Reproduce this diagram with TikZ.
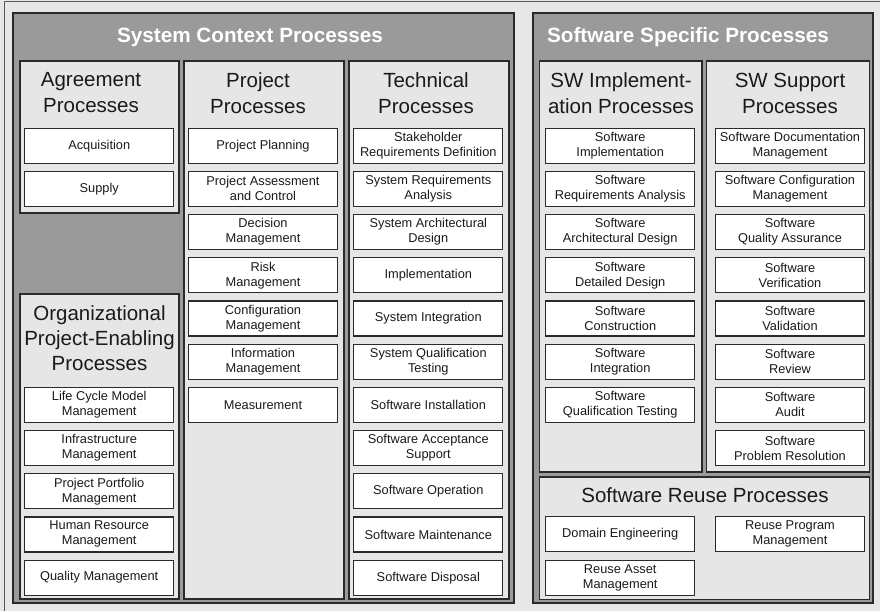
\documentclass[tikz,border=0pt]{standalone}
\usepackage{fontspec}
\setmainfont{Liberation Sans}
\definecolor{pagebg}{HTML}{E7E7E7}
\definecolor{bandgray}{HTML}{9A9A9A}
\definecolor{colbg}{HTML}{E6E6E6}
\definecolor{edge}{HTML}{2A2A2A}
\definecolor{ink}{HTML}{1A1A1A}
\begin{document}
\begin{tikzpicture}[x=1pt,y=-1pt,
  group/.style={draw=edge, line width=1.5pt, fill=bandgray},
  column/.style={draw=edge, line width=1.5pt, fill=colbg},
  item/.style={draw=edge, line width=1.2pt, fill=white, text=ink,
    minimum width=149pt, minimum height=35pt, inner sep=0pt, align=center,
    font=\fontsize{12.8}{15}\selectfont},
  coltitle/.style={align=center, text=ink, inner sep=0pt,
    font=\fontsize{20.5}{26}\selectfont},
  bandtitle/.style={anchor=base, text=white, inner sep=0pt,
    font=\fontsize{20.7}{24}\selectfont\bfseries}]
\useasboundingbox (0,0) rectangle (880,611);
\fill[pagebg] (0,0) rectangle (880,611);
\draw[gray!70!black, line width=1pt] (4,611) -- (4,1) -- (880,1);

% ---- System context processes ----
\draw[group] (13,13) rectangle (514,603);
\node[bandtitle] (sysT) at (250,42.7) {System Context Processes};

\draw[column] (20,61) rectangle (179,213);
\node[coltitle] (agrT) at (91,93) {Agreement\\Processes};
\node[item] (agr1) at (99.2,145.7) {Acquisition};
\node[item] (agr2) at (99.2,188.9) {Supply};

\draw[column] (20,294) rectangle (179,599);
\node[coltitle, font=\fontsize{20.5}{25}\selectfont] (orgT) at (99.5,338.2)
  {Organizational\\Project-Enabling\\Processes};
\foreach \t [count=\i] in {{Life Cycle Model\\Management},{Infrastructure\\Management},
    {Project Portfolio\\Management},{Human Resource\\Management},{Quality Management}}
  \node[item] (org\i) at (99.2,{404.8+(\i-1)*43.2}) {\t};

\draw[column] (184,61) rectangle (344,599);
\node[coltitle] (prjT) at (258,93) {Project\\Processes};
\foreach \t [count=\i] in {{Project Planning},{Project Assessment\\and Control},
    {Decision\\Management},{Risk\\Management},{Configuration\\Management},
    {Information\\Management},{Measurement}}
  \node[item] (prj\i) at (263,{145.7+(\i-1)*43.2}) {\t};

\draw[column] (349,61) rectangle (509,599);
\node[coltitle] (tecT) at (426,93) {Technical\\Processes};
\foreach \t [count=\i] in {{Stakeholder\\Requirements Definition},
    {System Requirements\\Analysis},{System Architectural\\Design},{Implementation},
    {System Integration},{System Qualification\\Testing},{Software Installation},
    {Software Acceptance\\Support},{Software Operation},{Software Maintenance},
    {Software Disposal}}
  \node[item] (tec\i) at (428.3,{145.7+(\i-1)*43.2}) {\t};

% ---- Software specific processes ----
\draw[group] (533,13) rectangle (873,603);
\node[bandtitle] (swT) at (688,42.7) {Software Specific Processes};

\draw[column] (539.5,61) rectangle (702,472);
\node[coltitle] (impT) at (621,93) {SW Implement-\\ation Processes};
\foreach \t [count=\i] in {{Software\\Implementation},{Software\\Requirements Analysis},
    {Software\\Architectural Design},{Software\\Detailed Design},{Software\\Construction},
    {Software\\Integration},{Software\\Qualification Testing}}
  \node[item] (imp\i) at (620.2,{145.7+(\i-1)*43.2}) {\t};

\draw[column] (706.7,61) rectangle (869.3,472);
\node[coltitle] (supT) at (790,93) {SW Support\\Processes};
\foreach \t [count=\i] in {{Software Documentation\\Management},
    {Software Configuration\\Management},{Software\\Quality Assurance},
    {Software\\Verification},{Software\\Validation},{Software\\Review},
    {Software\\Audit},{Software\\Problem Resolution}}
  \node[item] (sup\i) at (790,{145.7+(\i-1)*43.2}) {\t};

\draw[column] (539.5,477) rectangle (869.3,599.5);
\node[coltitle, anchor=base] (reuT) at (705,502.7) {Software Reuse Processes};
\node[item] (reu1) at (620.2,534.2) {Domain Engineering};
\node[item] (reu2) at (790,534.2) {Reuse Program\\Management};
\node[item] (reu3) at (620.2,577.6) {Reuse Asset\\Management};
\end{tikzpicture}
\end{document}
